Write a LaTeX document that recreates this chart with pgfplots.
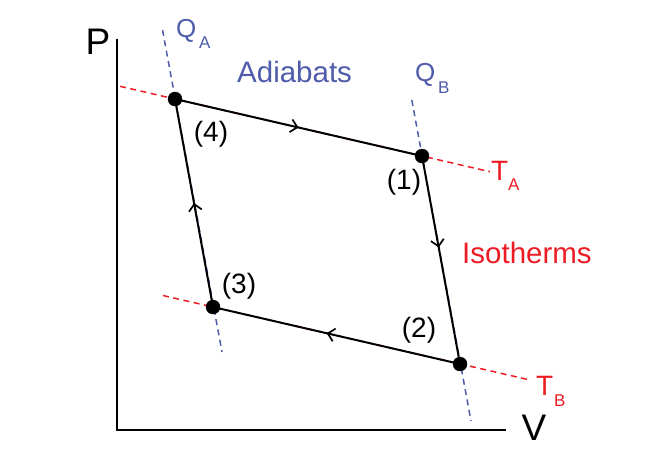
\documentclass[border=0pt]{standalone}
\usepackage{pgfplots}
\pgfplotsset{compat=1.18}
\usepackage{fontspec}
\setmainfont{Liberation Sans}
\usetikzlibrary{arrows.meta,decorations.markings}
\definecolor{qblue}{RGB}{79,91,171}
\definecolor{tred}{RGB}{237,28,36}
\newcommand{\fs}[1]{\fontsize{#1}{#1}\selectfont}
\begin{document}
\begin{tikzpicture}
\begin{axis}[
  width=647pt, height=459pt, scale only axis,
  xmin=0, xmax=647, ymin=0, ymax=459, y dir=reverse,
  hide axis, clip=false,
  mid/.style={postaction={decorate}, decoration={markings, mark=at position #1 with {\arrow{Straight Barb[length=6.5pt,width=13pt,line width=1.7pt]}}}},
]
\path (axis cs:0,0) rectangle (axis cs:647,459);
% P-V axes
\addplot[black, line width=2pt, line cap=rect] coordinates {(117,40) (117,430) (505,430)};
% isotherms
\addplot[tred, dashed, dash pattern=on 6pt off 4.5pt, line width=1.5pt] coordinates {(120,86.3) (490,171.7)};
\addplot[tred, dashed, dash pattern=on 6pt off 4.5pt, line width=1.5pt] coordinates {(163,295.5) (530,380)};
% adiabats
\addplot[qblue, dashed, dash pattern=on 6pt off 4.5pt, line width=1.5pt] coordinates {(162.5,30) (222,352)};
\addplot[qblue, dashed, dash pattern=on 6pt off 4.5pt, line width=1.5pt] coordinates {(411.8,100) (471,421)};
% cycle
\addplot[black, line width=2pt, mid=0.5] coordinates {(175,99) (422,156)};
\addplot[black, line width=2pt, mid=0.44] coordinates {(422,156) (460,364)};
\addplot[black, line width=2pt, mid=0.54] coordinates {(460,364) (213,307)};
\addplot[black, line width=2pt, mid=0.5] coordinates {(213,307) (175,99)};
% state points
\addplot[only marks, mark=*, mark size=7pt, black] coordinates {(175,99) (422,156) (460,364) (213,307)};
% labels
\node[anchor=center, inner sep=0] at (axis cs:98,42) {\fs{37}P};
\node[anchor=center, inner sep=0] at (axis cs:534,428) {\fs{37}V};
\node[anchor=base west, inner sep=0, text=qblue] at (axis cs:176,37) {\fs{26}Q};
\node[anchor=base west, inner sep=0, text=qblue] at (axis cs:199,48) {\fs{17}A};
\node[anchor=base west, inner sep=0, text=qblue] at (axis cs:415,81) {\fs{26}Q};
\node[anchor=base west, inner sep=0, text=qblue] at (axis cs:438,93) {\fs{17}B};
\node[anchor=base west, inner sep=0, text=qblue] at (axis cs:237,82) {\fs{29.5}Adiabats};
\node[anchor=base west, inner sep=0, text=tred] at (axis cs:491,180) {\fs{28}T};
\node[anchor=base west, inner sep=0, text=tred] at (axis cs:508,190) {\fs{17}A};
\node[anchor=base west, inner sep=0, text=tred] at (axis cs:536,395) {\fs{28}T};
\node[anchor=base west, inner sep=0, text=tred] at (axis cs:554,406) {\fs{17}B};
\node[anchor=base west, inner sep=0, text=tred] at (axis cs:462,263) {\fs{29.5}Isotherms};
\node[anchor=center, inner sep=0] at (axis cs:211,134) {\fs{28}(4)};
\node[anchor=center, inner sep=0] at (axis cs:404,182) {\fs{28}(1)};
\node[anchor=center, inner sep=0] at (axis cs:239,286) {\fs{28}(3)};
\node[anchor=center, inner sep=0] at (axis cs:419,330) {\fs{28}(2)};
\end{axis}
\end{tikzpicture}
\end{document}
